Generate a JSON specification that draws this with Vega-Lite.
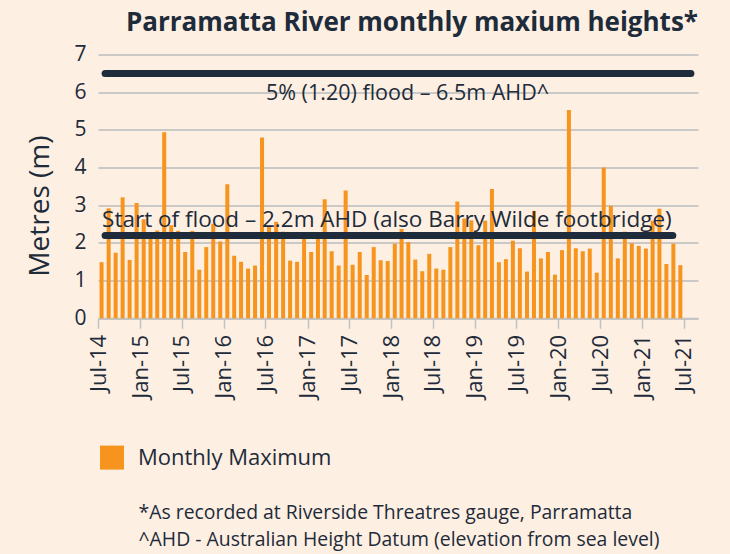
{
  "$schema": "https://vega.github.io/schema/vega-lite/v6.json",
  "width": 600,
  "height": 263.7,
  "autosize": "none",
  "padding": {"left": 98, "top": 54.6, "right": 32, "bottom": 235.7},
  "background": "#FDEFE2",
  "config": {
    "view": {"stroke": null},
    "font": "Open Sans",
    "axis": {"labelColor": "#1d2b3a", "titleColor": "#1d2b3a", "labelFont": "Open Sans", "titleFont": "Open Sans"}
  },
  "title": {
    "text": "Parramatta River monthly maxium heights*",
    "anchor": "end",
    "fontSize": 26,
    "fontWeight": "bold",
    "color": "#1d2b3a",
    "font": "Open Sans",
    "offset": 8
  },
  "datasets": {
    "monthly": [
      {"month": "2014/07/01", "height": 1.49},
      {"month": "2014/08/01", "height": 2.92},
      {"month": "2014/09/01", "height": 1.74},
      {"month": "2014/10/01", "height": 3.21},
      {"month": "2014/11/01", "height": 1.55},
      {"month": "2014/12/01", "height": 3.06},
      {"month": "2015/01/01", "height": 2.63},
      {"month": "2015/02/01", "height": 2.2},
      {"month": "2015/03/01", "height": 2.33},
      {"month": "2015/04/01", "height": 4.94},
      {"month": "2015/05/01", "height": 2.47},
      {"month": "2015/06/01", "height": 2.32},
      {"month": "2015/07/01", "height": 1.76},
      {"month": "2015/08/01", "height": 2.32},
      {"month": "2015/09/01", "height": 1.29},
      {"month": "2015/10/01", "height": 1.89},
      {"month": "2015/11/01", "height": 2.51},
      {"month": "2015/12/01", "height": 2.04},
      {"month": "2016/01/01", "height": 3.56},
      {"month": "2016/02/01", "height": 1.66},
      {"month": "2016/03/01", "height": 1.5},
      {"month": "2016/04/01", "height": 1.32},
      {"month": "2016/05/01", "height": 1.4},
      {"month": "2016/06/01", "height": 4.8},
      {"month": "2016/07/01", "height": 2.45},
      {"month": "2016/08/01", "height": 2.56},
      {"month": "2016/09/01", "height": 2.3},
      {"month": "2016/10/01", "height": 1.53},
      {"month": "2016/11/01", "height": 1.5},
      {"month": "2016/12/01", "height": 2.15},
      {"month": "2017/01/01", "height": 1.76},
      {"month": "2017/02/01", "height": 2.29},
      {"month": "2017/03/01", "height": 3.16},
      {"month": "2017/04/01", "height": 1.78},
      {"month": "2017/05/01", "height": 1.4},
      {"month": "2017/06/01", "height": 3.39},
      {"month": "2017/07/01", "height": 1.42},
      {"month": "2017/08/01", "height": 1.76},
      {"month": "2017/09/01", "height": 1.15},
      {"month": "2017/10/01", "height": 1.89},
      {"month": "2017/11/01", "height": 1.54},
      {"month": "2017/12/01", "height": 1.52},
      {"month": "2018/01/01", "height": 1.98},
      {"month": "2018/02/01", "height": 2.37},
      {"month": "2018/03/01", "height": 2.02},
      {"month": "2018/04/01", "height": 1.56},
      {"month": "2018/05/01", "height": 1.25},
      {"month": "2018/06/01", "height": 1.71},
      {"month": "2018/07/01", "height": 1.32},
      {"month": "2018/08/01", "height": 1.29},
      {"month": "2018/09/01", "height": 1.89},
      {"month": "2018/10/01", "height": 3.1},
      {"month": "2018/11/01", "height": 2.65},
      {"month": "2018/12/01", "height": 2.6},
      {"month": "2019/01/01", "height": 1.94},
      {"month": "2019/02/01", "height": 2.59},
      {"month": "2019/03/01", "height": 3.43},
      {"month": "2019/04/01", "height": 1.49},
      {"month": "2019/05/01", "height": 1.57},
      {"month": "2019/06/01", "height": 2.06},
      {"month": "2019/07/01", "height": 1.86},
      {"month": "2019/08/01", "height": 1.24},
      {"month": "2019/09/01", "height": 2.85},
      {"month": "2019/10/01", "height": 1.59},
      {"month": "2019/11/01", "height": 1.76},
      {"month": "2019/12/01", "height": 1.16},
      {"month": "2020/01/01", "height": 1.81},
      {"month": "2020/02/01", "height": 5.53},
      {"month": "2020/03/01", "height": 1.86},
      {"month": "2020/04/01", "height": 1.78},
      {"month": "2020/05/01", "height": 1.85},
      {"month": "2020/06/01", "height": 1.21},
      {"month": "2020/07/01", "height": 4.0},
      {"month": "2020/08/01", "height": 2.99},
      {"month": "2020/09/01", "height": 1.59},
      {"month": "2020/10/01", "height": 2.3},
      {"month": "2020/11/01", "height": 1.99},
      {"month": "2020/12/01", "height": 1.92},
      {"month": "2021/01/01", "height": 1.85},
      {"month": "2021/02/01", "height": 2.59},
      {"month": "2021/03/01", "height": 2.91},
      {"month": "2021/04/01", "height": 1.44},
      {"month": "2021/05/01", "height": 1.98},
      {"month": "2021/06/01", "height": 1.41}
    ],
    "levels": [
      {"label": "5% (1:20) flood – 6.5m AHD^", "height": 6.5, "start": "2014/08/01", "end": "2021/08/01", "labelAt": "2018/03/13", "pos": "below"},
      {"label": "Start of flood – 2.2m AHD (also Barry Wilde footbridge)", "height": 2.2, "start": "2014/08/01", "end": "2021/05/14", "labelAt": "2017/12/13", "pos": "above"}
    ]
  },
  "encoding": {
    "y": {
      "field": "height",
      "type": "quantitative",
      "scale": {"domain": [0, 7], "nice": false},
      "axis": {
        "values": [0, 1, 2, 3, 4, 5, 6, 7],
        "tickCount": 8,
        "labelOverlap": false,
        "title": "Metres (m)",
        "titleFontSize": 28,
        "titleFontWeight": "normal",
        "titleAngle": -90,
        "titleAlign": "center",
        "titleBaseline": "middle",
        "titleX": -58,
        "titleY": 151,
        "labelFontSize": 21,
        "labelPadding": 12,
        "ticks": false,
        "domain": false,
        "gridColor": "#b9bcbf",
        "gridWidth": 1.5
      }
    }
  },
  "layer": [
    {
      "data": {"name": "monthly"},
      "mark": {"type": "bar", "width": 4},
      "encoding": {
        "x": {
          "field": "month",
          "type": "temporal",
          "timeUnit": "yearmonth",
          "bandPosition": 0.5,
          "scale": {"domain": [{"year": 2014, "month": 7, "date": 1}, {"year": 2021, "month": 9, "date": 1}]},
          "axis": {
            "values": [
              {"year": 2014, "month": 7, "date": 1}, {"year": 2015, "month": 1, "date": 1},
              {"year": 2015, "month": 7, "date": 1}, {"year": 2016, "month": 1, "date": 1},
              {"year": 2016, "month": 7, "date": 1}, {"year": 2017, "month": 1, "date": 1},
              {"year": 2017, "month": 7, "date": 1}, {"year": 2018, "month": 1, "date": 1},
              {"year": 2018, "month": 7, "date": 1}, {"year": 2019, "month": 1, "date": 1},
              {"year": 2019, "month": 7, "date": 1}, {"year": 2020, "month": 1, "date": 1},
              {"year": 2020, "month": 7, "date": 1}, {"year": 2021, "month": 1, "date": 1},
              {"year": 2021, "month": 7, "date": 1}
            ],
            "format": "%b-%y",
            "labelAngle": -90,
            "labelFontSize": 22,
            "labelPadding": 6,
            "labelOverlap": false,
            "grid": false,
            "domainColor": "#c3c3c3",
            "domainWidth": 2,
            "tickColor": "#c3c3c3",
            "tickWidth": 1.5,
            "tickSize": 10,
            "title": ["*As recorded at Riverside Threatres gauge, Parramatta", "^AHD - Australian Height Datum (elevation from sea level)"],
            "titleFontSize": 19.4,
            "titleFontWeight": "normal",
            "titleAlign": "left",
            "titleAnchor": "start",
            "titleBaseline": "top",
            "titleX": 40,
            "titleY": 185,
            "titleLineHeight": 27
          }
        },
        "color": {
          "datum": "Monthly Maximum",
          "scale": {"range": ["#F7941D"]},
          "legend": {
            "title": null,
            "orient": "none",
            "legendX": 2,
            "legendY": 391,
            "symbolType": "square",
            "symbolSize": 576,
            "symbolStrokeWidth": 0,
            "symbolOpacity": 1,
            "labelFontSize": 22,
            "labelLimit": 0,
            "labelColor": "#1d2b3a",
            "labelOffset": 14
          }
        }
      }
    },
    {
      "data": {"name": "levels"},
      "mark": {"type": "rule", "strokeWidth": 7, "strokeCap": "round", "color": "#1d2b3a"},
      "encoding": {
        "x": {"field": "start", "type": "temporal"},
        "x2": {"field": "end"}
      }
    },
    {
      "data": {"name": "levels"},
      "transform": [{"filter": "datum.pos == 'below'"}],
      "mark": {"type": "text", "fontSize": 21.5, "color": "#1d2b3a", "align": "center", "baseline": "alphabetic", "dy": 27},
      "encoding": {
        "x": {"field": "labelAt", "type": "temporal"},
        "text": {"field": "label"}
      }
    },
    {
      "data": {"name": "levels"},
      "transform": [{"filter": "datum.pos == 'above'"}],
      "mark": {"type": "text", "fontSize": 22.5, "color": "#1d2b3a", "align": "center", "baseline": "alphabetic", "dy": -8.5},
      "encoding": {
        "x": {"field": "labelAt", "type": "temporal"},
        "text": {"field": "label"}
      }
    }
  ]
}
